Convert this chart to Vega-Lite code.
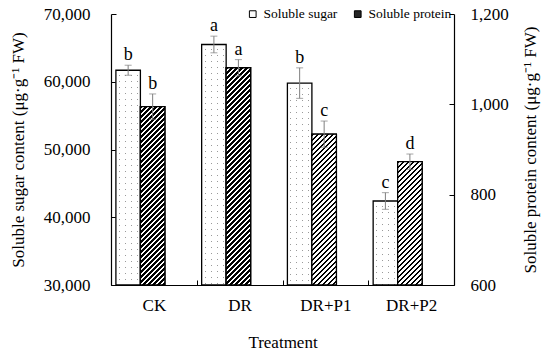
{
 "$schema": "https://vega.github.io/schema/vega-lite/v6.json",
 "width": 343, "height": 271,
 "autosize": {"type": "none"},
 "padding": {"left": 111, "top": 14, "right": 96, "bottom": 71},
 "background": "white",
 "config": {
  "font": "Liberation Serif",
  "view": {"stroke": null},
  "axis": {"grid": false, "domainColor": "black", "domainWidth": 1.2, "tickColor": "black", "labelColor": "black", "titleColor": "black", "labelFont": "Liberation Serif", "titleFont": "Liberation Serif", "labelFontSize": 17, "titleFontSize": 17, "titleFontWeight": "normal"}
 },
 "params": [{"name": "hatchStops", "value": [
  {"offset":0,"color":"#000"},{"offset":0.009,"color":"#000"},{"offset":0.009,"color":"#fff"},{"offset":0.02,"color":"#fff"},
  {"offset":0.02,"color":"#000"},{"offset":0.029,"color":"#000"},{"offset":0.029,"color":"#fff"},{"offset":0.04,"color":"#fff"},
  {"offset":0.04,"color":"#000"},{"offset":0.049,"color":"#000"},{"offset":0.049,"color":"#fff"},{"offset":0.06,"color":"#fff"},
  {"offset":0.06,"color":"#000"},{"offset":0.069,"color":"#000"},{"offset":0.069,"color":"#fff"},{"offset":0.08,"color":"#fff"},
  {"offset":0.08,"color":"#000"},{"offset":0.089,"color":"#000"},{"offset":0.089,"color":"#fff"},{"offset":0.1,"color":"#fff"},
  {"offset":0.1,"color":"#000"},{"offset":0.109,"color":"#000"},{"offset":0.109,"color":"#fff"},{"offset":0.12,"color":"#fff"},
  {"offset":0.12,"color":"#000"},{"offset":0.129,"color":"#000"},{"offset":0.129,"color":"#fff"},{"offset":0.14,"color":"#fff"},
  {"offset":0.14,"color":"#000"},{"offset":0.149,"color":"#000"},{"offset":0.149,"color":"#fff"},{"offset":0.16,"color":"#fff"},
  {"offset":0.16,"color":"#000"},{"offset":0.169,"color":"#000"},{"offset":0.169,"color":"#fff"},{"offset":0.18,"color":"#fff"},
  {"offset":0.18,"color":"#000"},{"offset":0.189,"color":"#000"},{"offset":0.189,"color":"#fff"},{"offset":0.2,"color":"#fff"},
  {"offset":0.2,"color":"#000"},{"offset":0.209,"color":"#000"},{"offset":0.209,"color":"#fff"},{"offset":0.22,"color":"#fff"},
  {"offset":0.22,"color":"#000"},{"offset":0.229,"color":"#000"},{"offset":0.229,"color":"#fff"},{"offset":0.24,"color":"#fff"},
  {"offset":0.24,"color":"#000"},{"offset":0.249,"color":"#000"},{"offset":0.249,"color":"#fff"},{"offset":0.26,"color":"#fff"},
  {"offset":0.26,"color":"#000"},{"offset":0.269,"color":"#000"},{"offset":0.269,"color":"#fff"},{"offset":0.28,"color":"#fff"},
  {"offset":0.28,"color":"#000"},{"offset":0.289,"color":"#000"},{"offset":0.289,"color":"#fff"},{"offset":0.3,"color":"#fff"},
  {"offset":0.3,"color":"#000"},{"offset":0.309,"color":"#000"},{"offset":0.309,"color":"#fff"},{"offset":0.32,"color":"#fff"},
  {"offset":0.32,"color":"#000"},{"offset":0.329,"color":"#000"},{"offset":0.329,"color":"#fff"},{"offset":0.34,"color":"#fff"},
  {"offset":0.34,"color":"#000"},{"offset":0.349,"color":"#000"},{"offset":0.349,"color":"#fff"},{"offset":0.36,"color":"#fff"},
  {"offset":0.36,"color":"#000"},{"offset":0.369,"color":"#000"},{"offset":0.369,"color":"#fff"},{"offset":0.38,"color":"#fff"},
  {"offset":0.38,"color":"#000"},{"offset":0.389,"color":"#000"},{"offset":0.389,"color":"#fff"},{"offset":0.4,"color":"#fff"},
  {"offset":0.4,"color":"#000"},{"offset":0.409,"color":"#000"},{"offset":0.409,"color":"#fff"},{"offset":0.42,"color":"#fff"},
  {"offset":0.42,"color":"#000"},{"offset":0.429,"color":"#000"},{"offset":0.429,"color":"#fff"},{"offset":0.44,"color":"#fff"},
  {"offset":0.44,"color":"#000"},{"offset":0.449,"color":"#000"},{"offset":0.449,"color":"#fff"},{"offset":0.46,"color":"#fff"},
  {"offset":0.46,"color":"#000"},{"offset":0.469,"color":"#000"},{"offset":0.469,"color":"#fff"},{"offset":0.48,"color":"#fff"},
  {"offset":0.48,"color":"#000"},{"offset":0.489,"color":"#000"},{"offset":0.489,"color":"#fff"},{"offset":0.5,"color":"#fff"},
  {"offset":0.5,"color":"#000"},{"offset":0.509,"color":"#000"},{"offset":0.509,"color":"#fff"},{"offset":0.52,"color":"#fff"},
  {"offset":0.52,"color":"#000"},{"offset":0.529,"color":"#000"},{"offset":0.529,"color":"#fff"},{"offset":0.54,"color":"#fff"},
  {"offset":0.54,"color":"#000"},{"offset":0.549,"color":"#000"},{"offset":0.549,"color":"#fff"},{"offset":0.56,"color":"#fff"},
  {"offset":0.56,"color":"#000"},{"offset":0.569,"color":"#000"},{"offset":0.569,"color":"#fff"},{"offset":0.58,"color":"#fff"},
  {"offset":0.58,"color":"#000"},{"offset":0.589,"color":"#000"},{"offset":0.589,"color":"#fff"},{"offset":0.6,"color":"#fff"},
  {"offset":0.6,"color":"#000"},{"offset":0.609,"color":"#000"},{"offset":0.609,"color":"#fff"},{"offset":0.62,"color":"#fff"},
  {"offset":0.62,"color":"#000"},{"offset":0.629,"color":"#000"},{"offset":0.629,"color":"#fff"},{"offset":0.64,"color":"#fff"},
  {"offset":0.64,"color":"#000"},{"offset":0.649,"color":"#000"},{"offset":0.649,"color":"#fff"},{"offset":0.66,"color":"#fff"},
  {"offset":0.66,"color":"#000"},{"offset":0.669,"color":"#000"},{"offset":0.669,"color":"#fff"},{"offset":0.68,"color":"#fff"},
  {"offset":0.68,"color":"#000"},{"offset":0.689,"color":"#000"},{"offset":0.689,"color":"#fff"},{"offset":0.7,"color":"#fff"},
  {"offset":0.7,"color":"#000"},{"offset":0.709,"color":"#000"},{"offset":0.709,"color":"#fff"},{"offset":0.72,"color":"#fff"},
  {"offset":0.72,"color":"#000"},{"offset":0.729,"color":"#000"},{"offset":0.729,"color":"#fff"},{"offset":0.74,"color":"#fff"},
  {"offset":0.74,"color":"#000"},{"offset":0.749,"color":"#000"},{"offset":0.749,"color":"#fff"},{"offset":0.76,"color":"#fff"},
  {"offset":0.76,"color":"#000"},{"offset":0.769,"color":"#000"},{"offset":0.769,"color":"#fff"},{"offset":0.78,"color":"#fff"},
  {"offset":0.78,"color":"#000"},{"offset":0.789,"color":"#000"},{"offset":0.789,"color":"#fff"},{"offset":0.8,"color":"#fff"},
  {"offset":0.8,"color":"#000"},{"offset":0.809,"color":"#000"},{"offset":0.809,"color":"#fff"},{"offset":0.82,"color":"#fff"},
  {"offset":0.82,"color":"#000"},{"offset":0.829,"color":"#000"},{"offset":0.829,"color":"#fff"},{"offset":0.84,"color":"#fff"},
  {"offset":0.84,"color":"#000"},{"offset":0.849,"color":"#000"},{"offset":0.849,"color":"#fff"},{"offset":0.86,"color":"#fff"},
  {"offset":0.86,"color":"#000"},{"offset":0.869,"color":"#000"},{"offset":0.869,"color":"#fff"},{"offset":0.88,"color":"#fff"},
  {"offset":0.88,"color":"#000"},{"offset":0.889,"color":"#000"},{"offset":0.889,"color":"#fff"},{"offset":0.9,"color":"#fff"},
  {"offset":0.9,"color":"#000"},{"offset":0.909,"color":"#000"},{"offset":0.909,"color":"#fff"},{"offset":0.92,"color":"#fff"},
  {"offset":0.92,"color":"#000"},{"offset":0.929,"color":"#000"},{"offset":0.929,"color":"#fff"},{"offset":0.94,"color":"#fff"},
  {"offset":0.94,"color":"#000"},{"offset":0.949,"color":"#000"},{"offset":0.949,"color":"#fff"},{"offset":0.96,"color":"#fff"},
  {"offset":0.96,"color":"#000"},{"offset":0.969,"color":"#000"},{"offset":0.969,"color":"#fff"},{"offset":0.98,"color":"#fff"},
  {"offset":0.98,"color":"#000"},{"offset":0.989,"color":"#000"},{"offset":0.989,"color":"#fff"},{"offset":1,"color":"#fff"}
 ]},
 {"name": "dotRows", "value": [
  {"offset":0,"color":"#fff"},{"offset":0.0167,"color":"#fff"},{"offset":0.0167,"color":"rgba(255,255,255,0)"},{"offset":0.02,"color":"rgba(255,255,255,0)"},
  {"offset":0.02,"color":"#fff"},{"offset":0.0367,"color":"#fff"},{"offset":0.0367,"color":"rgba(255,255,255,0)"},{"offset":0.04,"color":"rgba(255,255,255,0)"},
  {"offset":0.04,"color":"#fff"},{"offset":0.0567,"color":"#fff"},{"offset":0.0567,"color":"rgba(255,255,255,0)"},{"offset":0.06,"color":"rgba(255,255,255,0)"},
  {"offset":0.06,"color":"#fff"},{"offset":0.0767,"color":"#fff"},{"offset":0.0767,"color":"rgba(255,255,255,0)"},{"offset":0.08,"color":"rgba(255,255,255,0)"},
  {"offset":0.08,"color":"#fff"},{"offset":0.0967,"color":"#fff"},{"offset":0.0967,"color":"rgba(255,255,255,0)"},{"offset":0.1,"color":"rgba(255,255,255,0)"},
  {"offset":0.1,"color":"#fff"},{"offset":0.1167,"color":"#fff"},{"offset":0.1167,"color":"rgba(255,255,255,0)"},{"offset":0.12,"color":"rgba(255,255,255,0)"},
  {"offset":0.12,"color":"#fff"},{"offset":0.1367,"color":"#fff"},{"offset":0.1367,"color":"rgba(255,255,255,0)"},{"offset":0.14,"color":"rgba(255,255,255,0)"},
  {"offset":0.14,"color":"#fff"},{"offset":0.1567,"color":"#fff"},{"offset":0.1567,"color":"rgba(255,255,255,0)"},{"offset":0.16,"color":"rgba(255,255,255,0)"},
  {"offset":0.16,"color":"#fff"},{"offset":0.1767,"color":"#fff"},{"offset":0.1767,"color":"rgba(255,255,255,0)"},{"offset":0.18,"color":"rgba(255,255,255,0)"},
  {"offset":0.18,"color":"#fff"},{"offset":0.1967,"color":"#fff"},{"offset":0.1967,"color":"rgba(255,255,255,0)"},{"offset":0.2,"color":"rgba(255,255,255,0)"},
  {"offset":0.2,"color":"#fff"},{"offset":0.2167,"color":"#fff"},{"offset":0.2167,"color":"rgba(255,255,255,0)"},{"offset":0.22,"color":"rgba(255,255,255,0)"},
  {"offset":0.22,"color":"#fff"},{"offset":0.2367,"color":"#fff"},{"offset":0.2367,"color":"rgba(255,255,255,0)"},{"offset":0.24,"color":"rgba(255,255,255,0)"},
  {"offset":0.24,"color":"#fff"},{"offset":0.2567,"color":"#fff"},{"offset":0.2567,"color":"rgba(255,255,255,0)"},{"offset":0.26,"color":"rgba(255,255,255,0)"},
  {"offset":0.26,"color":"#fff"},{"offset":0.2767,"color":"#fff"},{"offset":0.2767,"color":"rgba(255,255,255,0)"},{"offset":0.28,"color":"rgba(255,255,255,0)"},
  {"offset":0.28,"color":"#fff"},{"offset":0.2967,"color":"#fff"},{"offset":0.2967,"color":"rgba(255,255,255,0)"},{"offset":0.3,"color":"rgba(255,255,255,0)"},
  {"offset":0.3,"color":"#fff"},{"offset":0.3167,"color":"#fff"},{"offset":0.3167,"color":"rgba(255,255,255,0)"},{"offset":0.32,"color":"rgba(255,255,255,0)"},
  {"offset":0.32,"color":"#fff"},{"offset":0.3367,"color":"#fff"},{"offset":0.3367,"color":"rgba(255,255,255,0)"},{"offset":0.34,"color":"rgba(255,255,255,0)"},
  {"offset":0.34,"color":"#fff"},{"offset":0.3567,"color":"#fff"},{"offset":0.3567,"color":"rgba(255,255,255,0)"},{"offset":0.36,"color":"rgba(255,255,255,0)"},
  {"offset":0.36,"color":"#fff"},{"offset":0.3767,"color":"#fff"},{"offset":0.3767,"color":"rgba(255,255,255,0)"},{"offset":0.38,"color":"rgba(255,255,255,0)"},
  {"offset":0.38,"color":"#fff"},{"offset":0.3967,"color":"#fff"},{"offset":0.3967,"color":"rgba(255,255,255,0)"},{"offset":0.4,"color":"rgba(255,255,255,0)"},
  {"offset":0.4,"color":"#fff"},{"offset":0.4167,"color":"#fff"},{"offset":0.4167,"color":"rgba(255,255,255,0)"},{"offset":0.42,"color":"rgba(255,255,255,0)"},
  {"offset":0.42,"color":"#fff"},{"offset":0.4367,"color":"#fff"},{"offset":0.4367,"color":"rgba(255,255,255,0)"},{"offset":0.44,"color":"rgba(255,255,255,0)"},
  {"offset":0.44,"color":"#fff"},{"offset":0.4567,"color":"#fff"},{"offset":0.4567,"color":"rgba(255,255,255,0)"},{"offset":0.46,"color":"rgba(255,255,255,0)"},
  {"offset":0.46,"color":"#fff"},{"offset":0.4767,"color":"#fff"},{"offset":0.4767,"color":"rgba(255,255,255,0)"},{"offset":0.48,"color":"rgba(255,255,255,0)"},
  {"offset":0.48,"color":"#fff"},{"offset":0.4967,"color":"#fff"},{"offset":0.4967,"color":"rgba(255,255,255,0)"},{"offset":0.5,"color":"rgba(255,255,255,0)"},
  {"offset":0.5,"color":"#fff"},{"offset":0.5167,"color":"#fff"},{"offset":0.5167,"color":"rgba(255,255,255,0)"},{"offset":0.52,"color":"rgba(255,255,255,0)"},
  {"offset":0.52,"color":"#fff"},{"offset":0.5367,"color":"#fff"},{"offset":0.5367,"color":"rgba(255,255,255,0)"},{"offset":0.54,"color":"rgba(255,255,255,0)"},
  {"offset":0.54,"color":"#fff"},{"offset":0.5567,"color":"#fff"},{"offset":0.5567,"color":"rgba(255,255,255,0)"},{"offset":0.56,"color":"rgba(255,255,255,0)"},
  {"offset":0.56,"color":"#fff"},{"offset":0.5767,"color":"#fff"},{"offset":0.5767,"color":"rgba(255,255,255,0)"},{"offset":0.58,"color":"rgba(255,255,255,0)"},
  {"offset":0.58,"color":"#fff"},{"offset":0.5967,"color":"#fff"},{"offset":0.5967,"color":"rgba(255,255,255,0)"},{"offset":0.6,"color":"rgba(255,255,255,0)"},
  {"offset":0.6,"color":"#fff"},{"offset":0.6167,"color":"#fff"},{"offset":0.6167,"color":"rgba(255,255,255,0)"},{"offset":0.62,"color":"rgba(255,255,255,0)"},
  {"offset":0.62,"color":"#fff"},{"offset":0.6367,"color":"#fff"},{"offset":0.6367,"color":"rgba(255,255,255,0)"},{"offset":0.64,"color":"rgba(255,255,255,0)"},
  {"offset":0.64,"color":"#fff"},{"offset":0.6567,"color":"#fff"},{"offset":0.6567,"color":"rgba(255,255,255,0)"},{"offset":0.66,"color":"rgba(255,255,255,0)"},
  {"offset":0.66,"color":"#fff"},{"offset":0.6767,"color":"#fff"},{"offset":0.6767,"color":"rgba(255,255,255,0)"},{"offset":0.68,"color":"rgba(255,255,255,0)"},
  {"offset":0.68,"color":"#fff"},{"offset":0.6967,"color":"#fff"},{"offset":0.6967,"color":"rgba(255,255,255,0)"},{"offset":0.7,"color":"rgba(255,255,255,0)"},
  {"offset":0.7,"color":"#fff"},{"offset":0.7167,"color":"#fff"},{"offset":0.7167,"color":"rgba(255,255,255,0)"},{"offset":0.72,"color":"rgba(255,255,255,0)"},
  {"offset":0.72,"color":"#fff"},{"offset":0.7367,"color":"#fff"},{"offset":0.7367,"color":"rgba(255,255,255,0)"},{"offset":0.74,"color":"rgba(255,255,255,0)"},
  {"offset":0.74,"color":"#fff"},{"offset":0.7567,"color":"#fff"},{"offset":0.7567,"color":"rgba(255,255,255,0)"},{"offset":0.76,"color":"rgba(255,255,255,0)"},
  {"offset":0.76,"color":"#fff"},{"offset":0.7767,"color":"#fff"},{"offset":0.7767,"color":"rgba(255,255,255,0)"},{"offset":0.78,"color":"rgba(255,255,255,0)"},
  {"offset":0.78,"color":"#fff"},{"offset":0.7967,"color":"#fff"},{"offset":0.7967,"color":"rgba(255,255,255,0)"},{"offset":0.8,"color":"rgba(255,255,255,0)"},
  {"offset":0.8,"color":"#fff"},{"offset":0.8167,"color":"#fff"},{"offset":0.8167,"color":"rgba(255,255,255,0)"},{"offset":0.82,"color":"rgba(255,255,255,0)"},
  {"offset":0.82,"color":"#fff"},{"offset":0.8367,"color":"#fff"},{"offset":0.8367,"color":"rgba(255,255,255,0)"},{"offset":0.84,"color":"rgba(255,255,255,0)"},
  {"offset":0.84,"color":"#fff"},{"offset":0.8567,"color":"#fff"},{"offset":0.8567,"color":"rgba(255,255,255,0)"},{"offset":0.86,"color":"rgba(255,255,255,0)"},
  {"offset":0.86,"color":"#fff"},{"offset":0.8767,"color":"#fff"},{"offset":0.8767,"color":"rgba(255,255,255,0)"},{"offset":0.88,"color":"rgba(255,255,255,0)"},
  {"offset":0.88,"color":"#fff"},{"offset":0.8967,"color":"#fff"},{"offset":0.8967,"color":"rgba(255,255,255,0)"},{"offset":0.9,"color":"rgba(255,255,255,0)"},
  {"offset":0.9,"color":"#fff"},{"offset":0.9167,"color":"#fff"},{"offset":0.9167,"color":"rgba(255,255,255,0)"},{"offset":0.92,"color":"rgba(255,255,255,0)"},
  {"offset":0.92,"color":"#fff"},{"offset":0.9367,"color":"#fff"},{"offset":0.9367,"color":"rgba(255,255,255,0)"},{"offset":0.94,"color":"rgba(255,255,255,0)"},
  {"offset":0.94,"color":"#fff"},{"offset":0.9567,"color":"#fff"},{"offset":0.9567,"color":"rgba(255,255,255,0)"},{"offset":0.96,"color":"rgba(255,255,255,0)"},
  {"offset":0.96,"color":"#fff"},{"offset":0.9767,"color":"#fff"},{"offset":0.9767,"color":"rgba(255,255,255,0)"},{"offset":0.98,"color":"rgba(255,255,255,0)"},
  {"offset":0.98,"color":"#fff"},{"offset":0.9967,"color":"#fff"},{"offset":0.9967,"color":"rgba(255,255,255,0)"},{"offset":1,"color":"rgba(255,255,255,0)"}
 ]}],
 "datasets": {
  "sugar": [
   {"treatment": "CK", "series": "Soluble sugar", "value": 61700, "lo": 60960, "hi": 62440, "letter": "b"},
   {"treatment": "DR", "series": "Soluble sugar", "value": 65500, "lo": 64270, "hi": 66730, "letter": "a"},
   {"treatment": "DR+P1", "series": "Soluble sugar", "value": 59800, "lo": 57550, "hi": 62050, "letter": "b"},
   {"treatment": "DR+P2", "series": "Soluble sugar", "value": 42400, "lo": 41170, "hi": 43630, "letter": "c"}
  ],
  "protein": [
   {"treatment": "CK", "series": "Soluble protein", "value": 995, "lo": 967, "hi": 1023, "letter": "b"},
   {"treatment": "DR", "series": "Soluble protein", "value": 1081, "lo": 1063, "hi": 1099, "letter": "a"},
   {"treatment": "DR+P1", "series": "Soluble protein", "value": 934, "lo": 905, "hi": 963, "letter": "c"},
   {"treatment": "DR+P2", "series": "Soluble protein", "value": 873, "lo": 856, "hi": 890, "letter": "d"}
  ]
 },
 "encoding": {
  "x": {"field": "treatment", "type": "nominal", "sort": ["CK", "DR", "DR+P1", "DR+P2"],
        "scale": {"paddingInner": 0, "paddingOuter": 0},
        "axis": {"title": "Treatment", "labelAngle": 0, "tickBand": "extent", "tickSize": -5, "labelPadding": 17, "titlePadding": 21, "labelBaseline": "top"}},
  "xOffset": {"field": "series", "type": "nominal", "scale": {"domain": ["Soluble sugar", "Soluble protein", "blank"], "paddingInner": 0, "paddingOuter": 0.25, "align": 0.4}}
 },
 "layer": [
  {
   "data": {"name": "sugar"},
   "layer": [
    {"mark": {"type": "bar", "strokeWidth": 0},
     "encoding": {
      "y": {"field": "value", "type": "quantitative", "scale": {"domain": [30000, 70000], "nice": false, "zero": false},
            "axis": {"orient": "left", "values": [30000, 40000, 50000, 60000, 70000], "format": ",.0f", "title": "Soluble sugar content (μg·g⁻¹ FW)", "tickSize": -5, "labelPadding": 26, "titlePadding": 16}},
      "y2": {"datum": 30000},
      "fill": {"field": "series", "type": "nominal", "scale": {"domain": ["Soluble sugar", "Soluble protein"], "range": ["#fbfbfb", "#262626"]},
               "legend": {"orient": "none", "legendX": 135, "legendY": -7, "direction": "horizontal", "title": null, "symbolType": "square", "symbolSize": 45, "symbolStrokeColor": "black", "symbolStrokeWidth": 1, "labelFontSize": 13.5, "labelFont": "Liberation Serif", "labelColor": "black", "labelOffset": 4, "columnPadding": 13, "padding": 0}}
     }},
    {"mark": {"type": "bar", "strokeWidth": 0,
              "fill": {"gradient": "linear", "x1": 0, "y1": 0, "x2": 1, "y2": 0, "stops": [
               {"offset": 0, "color": "#fff"}, {"offset": 0.1224, "color": "#fff"}, {"offset": 0.1224, "color": "#9a9a9a"}, {"offset": 0.1633, "color": "#9a9a9a"}, {"offset": 0.1633, "color": "#fff"},
               {"offset": 0.367, "color": "#fff"}, {"offset": 0.367, "color": "#9a9a9a"}, {"offset": 0.408, "color": "#9a9a9a"}, {"offset": 0.408, "color": "#fff"},
               {"offset": 0.612, "color": "#fff"}, {"offset": 0.612, "color": "#9a9a9a"}, {"offset": 0.653, "color": "#9a9a9a"}, {"offset": 0.653, "color": "#fff"},
               {"offset": 0.857, "color": "#fff"}, {"offset": 0.857, "color": "#9a9a9a"}, {"offset": 0.898, "color": "#9a9a9a"}, {"offset": 0.898, "color": "#fff"}, {"offset": 1, "color": "#fff"}]}},
     "encoding": {"y": {"field": "value", "type": "quantitative"}, "y2": {"datum": 30000}}},
    {"mark": {"type": "bar", "stroke": "black", "strokeWidth": 1.3,
              "fill": {"expr": "{gradient: 'linear', x1: 0, y1: 0, x2: 0, y2: 300/((datum.value-30000)*0.006775), stops: dotRows}"}},
     "encoding": {"y": {"field": "value", "type": "quantitative"}, "y2": {"datum": 30000}}},
    {"mark": {"type": "rule", "color": "#7f7f7f", "strokeWidth": 1},
     "encoding": {"y": {"field": "lo", "type": "quantitative"}, "y2": {"field": "hi"}}},
    {"mark": {"type": "tick", "orient": "horizontal", "size": 7, "thickness": 1, "color": "#7f7f7f"},
     "encoding": {"y": {"field": "lo", "type": "quantitative"}}},
    {"mark": {"type": "tick", "orient": "horizontal", "size": 7, "thickness": 1, "color": "#7f7f7f"},
     "encoding": {"y": {"field": "hi", "type": "quantitative"}}},
    {"mark": {"type": "text", "baseline": "alphabetic", "dy": -5, "fontSize": 18, "font": "Liberation Serif", "color": "black"},
     "encoding": {"y": {"field": "hi", "type": "quantitative"}, "text": {"field": "letter"}}}
   ]
  },
  {
   "data": {"name": "protein"},
   "layer": [
    {"mark": {"type": "bar", "stroke": "black", "strokeWidth": 1.3},
     "encoding": {
      "y": {"field": "value", "type": "quantitative", "scale": {"domain": [600, 1200], "nice": false, "zero": false},
            "axis": {"orient": "right", "values": [600, 800, 1000, 1200], "format": ",.0f", "title": "Soluble protein content (μg·g⁻¹ FW)", "titleAngle": 270, "titleBaseline": "bottom", "tickSize": -5, "labelPadding": 21, "titlePadding": 31}},
      "y2": {"datum": 600},
      "fill": {"field": "series", "type": "nominal"}
     }},
    {"mark": {"type": "bar", "stroke": "black", "strokeWidth": 1.3,
              "fill": {"expr": "{gradient: 'linear', x1: 0, y1: 0, x2: 250*24.5/(600.25 + pow((datum.value-600)*0.451667, 2)), y2: 250*(datum.value-600)*0.451667/(600.25 + pow((datum.value-600)*0.451667, 2)), stops: hatchStops}"}},
     "encoding": {"y": {"field": "value", "type": "quantitative"}, "y2": {"datum": 600}}},
    {"mark": {"type": "rule", "color": "#7f7f7f", "strokeWidth": 1},
     "encoding": {"y": {"field": "lo", "type": "quantitative"}, "y2": {"field": "hi"}}},
    {"mark": {"type": "tick", "orient": "horizontal", "size": 7, "thickness": 1, "color": "#7f7f7f"},
     "encoding": {"y": {"field": "lo", "type": "quantitative"}}},
    {"mark": {"type": "tick", "orient": "horizontal", "size": 7, "thickness": 1, "color": "#7f7f7f"},
     "encoding": {"y": {"field": "hi", "type": "quantitative"}}},
    {"mark": {"type": "text", "baseline": "alphabetic", "dy": -5, "fontSize": 18, "font": "Liberation Serif", "color": "black"},
     "encoding": {"y": {"field": "hi", "type": "quantitative"}, "text": {"field": "letter"}}}
   ]
  }
 ],
 "resolve": {"scale": {"y": "independent"}}
}
